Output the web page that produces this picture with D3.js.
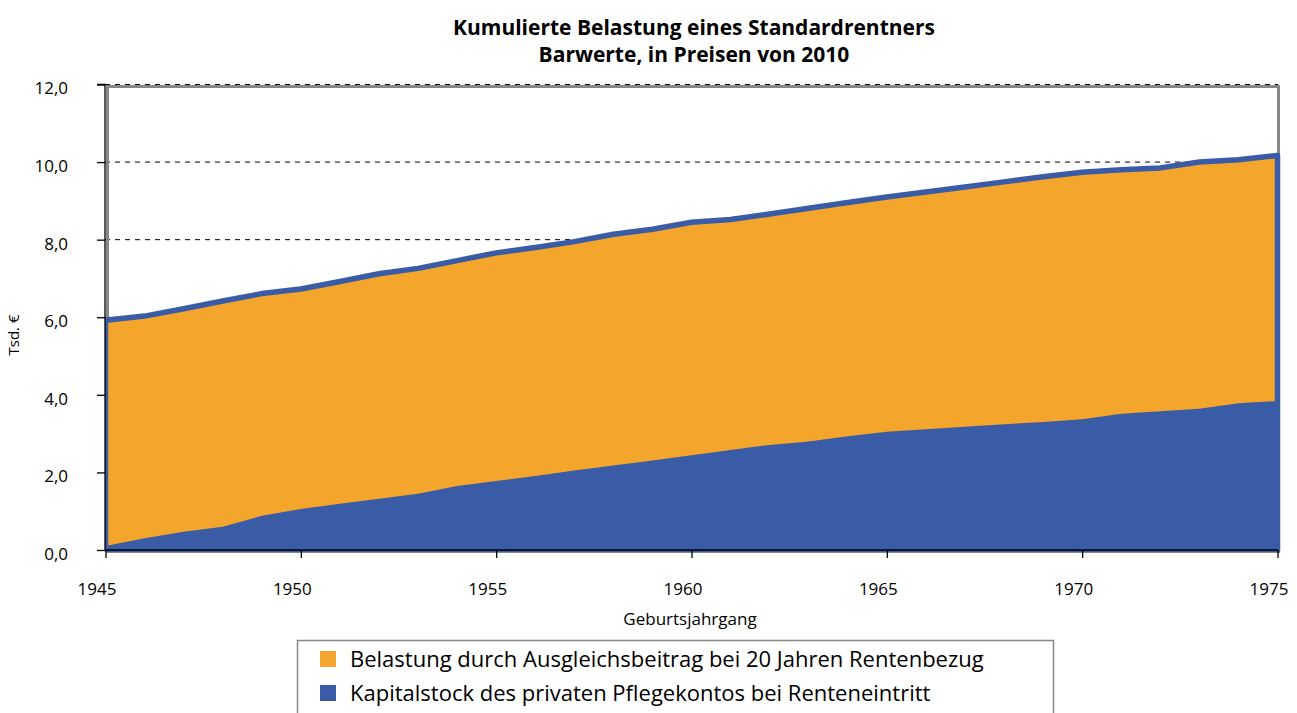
<!DOCTYPE html>
<html>
<head>
<meta charset="utf-8">
<script src="https://cdn.jsdelivr.net/npm/d3@7"></script>
<style>
  body { margin: 0; background: #fff; }
  svg { display: block; font-family: "Open Sans", "Noto Sans", sans-serif; }
</style>
</head>
<body>
<svg width="1297" height="713"></svg>
<script>
// Geburtsjahrgaenge 1945..1975
var years = [1945, 1946, 1947, 1948, 1949, 1950, 1951, 1952, 1953, 1954, 1955,
             1956, 1957, 1958, 1959, 1960, 1961, 1962, 1963, 1964, 1965,
             1966, 1967, 1968, 1969, 1970, 1971, 1972, 1973, 1974, 1975];

// Kapitalstock des privaten Pflegekontos (Tsd. EUR)
var kapitalstock = [0.10, 0.30, 0.47, 0.60, 0.88, 1.06, 1.19, 1.32, 1.45, 1.65, 1.78,
                    1.91, 2.05, 2.18, 2.31, 2.44, 2.58, 2.71, 2.80, 2.93, 3.05,
                    3.11, 3.18, 3.24, 3.30, 3.37, 3.51, 3.58, 3.64, 3.78, 3.84];

// Belastung durch Ausgleichsbeitrag (Tsd. EUR), gestapelt
var belastung = [5.82, 5.73, 5.75, 5.82, 5.73, 5.67, 5.73, 5.80, 5.81, 5.81, 5.88,
                 5.89, 5.90, 5.96, 5.96, 6.01, 5.94, 5.95, 6.01, 6.03, 6.05,
                 6.12, 6.18, 6.25, 6.32, 6.37, 6.29, 6.27, 6.36, 6.28, 6.33];

var yTicks = [0, 2, 4, 6, 8, 10, 12];
var xTicks = [1945, 1950, 1955, 1960, 1965, 1970, 1975];
var seriesNames = ["Belastung durch Ausgleichsbeitrag bei 20 Jahren Rentenbezug",
                   "Kapitalstock des privaten Pflegekontos bei Renteneintritt"];

var orange = "#f4a52c", blue = "#3a5ba5", frameGray = "#888";

var svg = d3.select("svg");

var x = d3.scaleLinear().domain([1945, 1975]).range([105.5, 1277.5]);
var y = d3.scaleLinear().domain([0, 12]).range([550, 84.5]);

var table = years.map(function(yr, i) {
  return { year: yr, kap: kapitalstock[i], bel: belastung[i] };
});
var stacked = d3.stack().keys(["kap", "bel"])(table);

// title
svg.append("text")
    .attr("x", 694).attr("y", 35)
    .attr("text-anchor", "middle")
    .style("font-weight", "bold").style("font-size", "21px")
    .text("Kumulierte Belastung eines Standardrentners");
svg.append("text")
    .attr("x", 694).attr("y", 62)
    .attr("text-anchor", "middle")
    .style("font-weight", "bold").style("font-size", "21px")
    .text("Barwerte, in Preisen von 2010");

// dashed grid
svg.append("g").selectAll("line")
  .data(yTicks.filter(function(d) { return d > 0; }))
  .enter().append("line")
    .attr("x1", 105).attr("x2", 1278)
    .attr("y1", function(d) { return y(d); })
    .attr("y2", function(d) { return y(d); })
    .attr("stroke", "#000").attr("stroke-width", 1)
    .attr("stroke-dasharray", "5,5");

// plot frame
svg.append("rect")
    .attr("x", 107.5).attr("y", 86.5)
    .attr("width", 1171).attr("height", 465)
    .attr("fill", "none")
    .attr("stroke", frameGray).attr("stroke-width", 3);

svg.append("clipPath").attr("id", "clip")
  .append("rect").attr("x", 105).attr("y", 60).attr("width", 1180).attr("height", 492);

var plot = svg.append("g").attr("clip-path", "url(#clip)");

// total area (orange) with blue outline
plot.append("path")
    .datum(stacked[1])
    .attr("fill", orange)
    .attr("stroke", blue).attr("stroke-width", 5.5)
    .attr("stroke-linejoin", "round")
    .attr("d", d3.area()
        .x(function(d) { return x(d.data.year); })
        .y0(y(0))
        .y1(function(d) { return y(d[1]); }));

// Kapitalstock area
plot.append("path")
    .datum(stacked[0])
    .attr("fill", blue)
    .attr("d", d3.area()
        .x(function(d) { return x(d.data.year); })
        .y0(function(d) { return y(d[0]); })
        .y1(function(d) { return y(d[1]); }));

// axes
var yAxis = svg.append("g")
    .attr("transform", "translate(105,0)")
    .call(d3.axisLeft(y).tickValues(yTicks).tickSize(8).tickPadding(29)
        .tickFormat(function(d) { return d3.format(".1f")(d).replace(".", ","); }));
var xAxis = svg.append("g")
    .attr("transform", "translate(0,550)")
    .call(d3.axisBottom(x).tickValues(xTicks).tickSize(8).tickPadding(25)
        .tickFormat(d3.format("d")));

[yAxis, xAxis].forEach(function(ax) {
  ax.select(".domain").attr("stroke", "#000").attr("stroke-width", 1.3);
  ax.selectAll(".tick line").attr("stroke", "#000").attr("stroke-width", 1.3);
  ax.selectAll(".tick text")
      .attr("fill", "#000")
      .style("font-size", "17px")
      .style("font-family", "'Open Sans', sans-serif");
});
yAxis.select(".domain").attr("d", "M-8,84.5H0V550");
yAxis.selectAll(".tick text").attr("dy", "0.55em");
xAxis.select(".domain").attr("d", "M105.5,0H1277.5");
xAxis.selectAll(".tick text").attr("dx", "-9");

// axis titles
svg.append("text")
    .attr("x", 690).attr("y", 625)
    .attr("text-anchor", "middle")
    .style("font-size", "17px")
    .text("Geburtsjahrgang");
svg.append("text")
    .attr("transform", "translate(19,335) rotate(-90)")
    .attr("text-anchor", "middle")
    .style("font-size", "15px")
    .text("Tsd. €");

// legend
var legend = svg.append("g");
legend.append("rect")
    .attr("x", 297.5).attr("y", 640.5)
    .attr("width", 756).attr("height", 90)
    .attr("fill", "#fff")
    .attr("stroke", frameGray).attr("stroke-width", 1.5);

var items = legend.selectAll("g.item")
  .data(seriesNames)
  .enter().append("g")
    .attr("class", "item")
    .attr("transform", function(d, i) { return "translate(320," + (651 + i * 34) + ")"; });
items.append("rect")
    .attr("width", 16).attr("height", 16)
    .attr("fill", function(d, i) { return i === 0 ? orange : blue; });
items.append("text")
    .attr("x", 30).attr("y", 16)
    .style("font-size", "22px")
    .text(function(d) { return d; });
</script>
</body>
</html>
